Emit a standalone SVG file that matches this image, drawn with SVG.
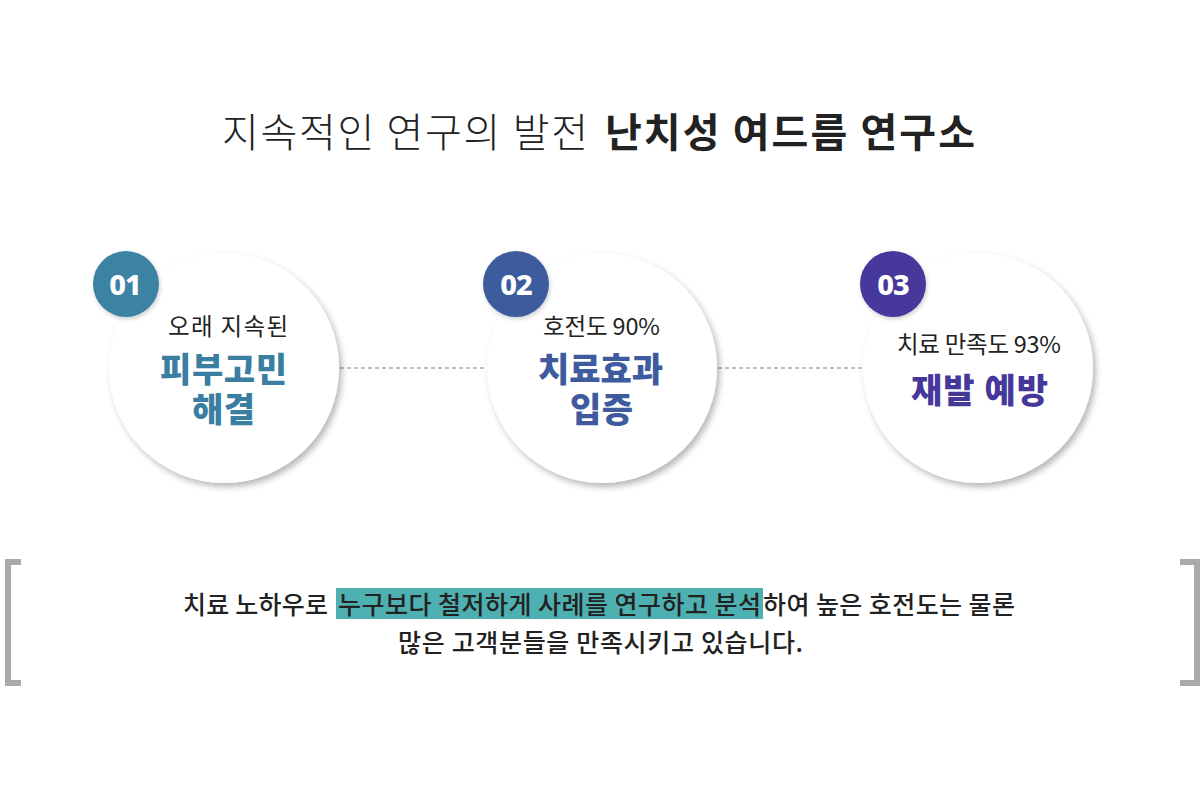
<svg xmlns="http://www.w3.org/2000/svg" width="1200" height="786" viewBox="0 0 1200 786">
<defs>
<filter id="sh" x="-20%" y="-20%" width="150%" height="150%">
<feDropShadow dx="3" dy="4" stdDeviation="3" flood-color="#000" flood-opacity="0.28"/>
</filter>
<filter id="bsh" x="-30%" y="-30%" width="170%" height="170%">
<feDropShadow dx="1" dy="2" stdDeviation="2" flood-color="#000" flood-opacity="0.2"/>
</filter>
<style>
.t{font-family:"Noto Sans CJK KR","Noto Sans",sans-serif;}
.small{font-size:23.5px;fill:#222;font-weight:400;}
.big{font-size:34px;font-weight:900;}
.num{font-family:"Noto Sans","DejaVu Sans",sans-serif;font-size:29px;font-weight:800;fill:#fff;text-anchor:middle;letter-spacing:-1px;}
.body{font-size:25px;fill:#222;font-weight:500;}
.circ{fill:#fff;filter:url(#sh);}
.dash{stroke:#aaa;stroke-width:1.5;stroke-dasharray:4 3;fill:none;}
.br{stroke:#aaa;stroke-width:6;fill:none;}
</style>
</defs>
<rect width="1200" height="786" fill="#fff"/>
<g id="title">
<text class="t" x="222" y="147" font-size="40" font-weight="300" fill="#222" textLength="366" lengthAdjust="spacing">지속적인 연구의 발전</text>
<text class="t" x="605" y="147" font-size="40" font-weight="700" fill="#222" textLength="370" lengthAdjust="spacing">난치성 여드름 연구소</text>
</g>
<g id="connectors">
<line class="dash" x1="340" y1="368" x2="487" y2="368"/>
<line class="dash" x1="718" y1="368" x2="864" y2="368"/>
</g>
<g id="node1">
<circle class="circ" cx="224" cy="368" r="115"/>
<circle cx="126" cy="284" r="33" fill="#3a82a3" filter="url(#bsh)"/>
<text class="num" x="125" y="295">01</text>
<text class="t small" x="168" y="335" textLength="120" lengthAdjust="spacing">오래 지속된</text>
<text class="t big" x="160" y="382" fill="#3a7fa1" textLength="127" lengthAdjust="spacing">피부고민</text>
<text class="t big" x="192" y="422" fill="#3a7fa1" textLength="63" lengthAdjust="spacing">해결</text>
</g>
<g id="node2">
<circle class="circ" cx="602" cy="368" r="115"/>
<circle cx="516" cy="284" r="33" fill="#3d5b9d" filter="url(#bsh)"/>
<text class="num" x="516" y="295">02</text>
<text class="t small" x="543" y="335" textLength="117" lengthAdjust="spacing">호전도 90%</text>
<text class="t big" x="538" y="382" fill="#3d5b9d" textLength="125" lengthAdjust="spacing">치료효과</text>
<text class="t big" x="570" y="422" fill="#3d5b9d" textLength="63" lengthAdjust="spacing">입증</text>
</g>
<g id="node3">
<circle class="circ" cx="978" cy="368" r="115"/>
<circle cx="893" cy="284" r="33" fill="#46389b" filter="url(#bsh)"/>
<text class="num" x="893" y="295">03</text>
<text class="t small" x="897" y="353" textLength="164" lengthAdjust="spacing">치료 만족도 93%</text>
<text class="t big" x="911" y="403" fill="#46389b" textLength="137" lengthAdjust="spacing">재발 예방</text>
</g>
<g id="bottom">
<path class="br" d="M21,562 H8 V683 H21"/>
<path class="br" d="M1180,562 H1197 V683 H1180"/>
<rect x="336" y="588" width="427" height="31" fill="#4eb0b0"/>
<text class="t body" x="183" y="614" textLength="145" lengthAdjust="spacing">치료 노하우로</text>
<text class="t body" x="338" y="614" fill="#fff" textLength="423" lengthAdjust="spacing">누구보다 철저하게 사례를 연구하고 분석</text>
<text class="t body" x="763" y="614" textLength="252" lengthAdjust="spacing">하여 높은 호전도는 물론</text>
<text class="t body" x="398" y="652" textLength="405" lengthAdjust="spacing">많은 고객분들을 만족시키고 있습니다.</text>
</g>
</svg>
